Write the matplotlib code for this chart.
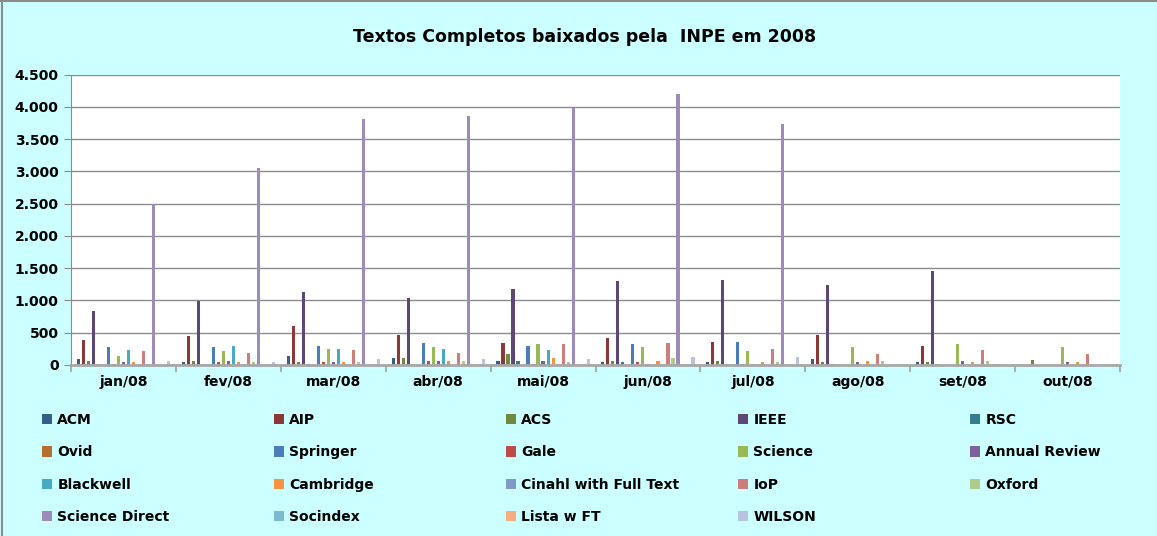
import matplotlib
matplotlib.use("Agg")
import matplotlib.pyplot as plt
from matplotlib.patches import Patch
from matplotlib.lines import Line2D
import matplotlib.ticker as mticker
import numpy as np

months = ["jan/08", "fev/08", "mar/08", "abr/08", "mai/08", "jun/08",
          "jul/08", "ago/08", "set/08", "out/08"]

acm       = [90, 45, 140, 110, 60, 45, 45, 95, 45, 0]
aip       = [390, 450, 600, 465, 340, 420, 355, 465, 295, 0]
acs       = [60, 60, 45, 110, 170, 60, 60, 45, 45, 85]
ieee      = [840, 995, 1135, 1040, 1180, 1305, 1320, 1240, 1455, 0]
rsc       = [15, 15, 15, 15, 60, 45, 15, 15, 15, 0]
ovid      = [0, 0, 0, 0, 0, 0, 0, 0, 0, 0]
springer  = [280, 280, 295, 340, 295, 325, 355, 0, 0, 0]
gale      = [15, 45, 45, 60, 15, 45, 15, 0, 0, 0]
science   = [140, 215, 250, 280, 325, 280, 215, 280, 325, 280]
annual    = [45, 60, 45, 60, 60, 15, 15, 45, 60, 40]
blackwell = [230, 295, 250, 250, 230, 0, 0, 0, 0, 0]
cambridge = [45, 45, 45, 60, 110, 60, 45, 60, 45, 40]
cinahl    = [0, 0, 0, 0, 0, 0, 0, 0, 0, 0]
iop       = [215, 185, 230, 185, 325, 340, 250, 170, 230, 165]
oxford    = [15, 45, 45, 60, 45, 110, 45, 60, 60, 0]
scidirect = [2500, 3060, 3810, 3860, 3980, 4200, 3735, 0, 0, 0]
socindex  = [0, 0, 0, 0, 0, 0, 0, 0, 15, 0]
lista     = [0, 0, 0, 0, 0, 0, 0, 0, 0, 0]
wilson    = [60, 45, 95, 95, 95, 125, 125, 0, 0, 0]

series_names = ["ACM", "AIP", "ACS", "IEEE", "RSC", "Ovid", "Springer", "Gale",
                "Science", "Annual Review", "Blackwell", "Cambridge",
                "Cinahl with Full Text", "IoP", "Oxford", "Science Direct",
                "Socindex", "Lista w FT", "WILSON"]
series_values = [acm, aip, acs, ieee, rsc, ovid, springer, gale, science, annual,
                 blackwell, cambridge, cinahl, iop, oxford, scidirect, socindex,
                 lista, wilson]
colors = ["#385D8A", "#8C3836", "#71893F", "#5C4776", "#357D91", "#B66D31",
          "#4A7EBB", "#BE4B48", "#98B954", "#7D60A0", "#46AAC5", "#F69240",
          "#7E9BC8", "#CD7E7C", "#B0CA87", "#9E8BBA", "#7CBAD0", "#F9AD7E",
          "#B9C3DF"]

W, H = 1157, 536
fig = plt.figure(figsize=(W / 100, H / 100), dpi=100)
fig.patch.set_facecolor("#CCFFFF")
fig.lines.append(Line2D([0, 1], [0.998, 0.998], transform=fig.transFigure,
                        color="#8C8C8C", lw=1.5))
fig.lines.append(Line2D([0.002, 0.002], [0, 1], transform=fig.transFigure,
                        color="#8C8C8C", lw=1.5))

left, right, top, bottom = 71, 1120, 74.7, 365
ax = fig.add_axes([left / W, 1 - bottom / H, (right - left) / W, (bottom - top) / H])
ax.set_facecolor("white")

n = len(series_names)
x = np.arange(len(months))
pitch = 0.0477
bw = pitch * 0.62
handles = []
for i, (name, vals, c) in enumerate(zip(series_names, series_values, colors)):
    ax.bar(x + (i - (n - 1) / 2) * pitch, vals, width=bw, color=c, zorder=3)
    handles.append(Patch(facecolor=c, label=name))

ax.set_xlim(-0.5, len(months) - 0.5)
ax.set_ylim(0, 4500)
ax.yaxis.set_major_locator(mticker.MultipleLocator(500))
ax.yaxis.set_major_formatter(mticker.FuncFormatter(
    lambda v, p: f"{int(v):,}".replace(",", ".")))
ax.grid(axis="y", color="#8C8C8C", lw=1.0, zorder=0)

ax.set_xticks(np.arange(len(months) + 1) - 0.5)
ax.set_xticklabels([])
ax.set_xticks(x, minor=True)
ax.set_xticklabels(months, minor=True, fontsize=10, fontweight="bold")
ax.tick_params(axis="x", which="major", length=5, color="#A0A0A0", width=1.2)
ax.tick_params(axis="x", which="minor", length=0, pad=7)
ax.tick_params(axis="y", length=5, color="#8C8C8C", pad=4, labelsize=10)
for lab in ax.get_yticklabels():
    lab.set_fontweight("bold")

for s in ["top", "right"]:
    ax.spines[s].set_visible(False)
ax.spines["left"].set_color("#8C8C8C")
ax.spines["bottom"].set_color("#A8A8A8")
ax.spines["bottom"].set_linewidth(2)
ax.spines["bottom"].set_zorder(4)

fig.text(585 / W, 1 - 37 / H, "Textos Completos baixados pela  INPE em 2008",
         ha="center", va="center", fontsize=12.5, fontweight="bold")

ncol = 5
col_x = [42, 274, 506, 738, 970]
for c in range(ncol):
    idxs = [r * ncol + c for r in range(4) if r * ncol + c < n]
    fig.legend([handles[i] for i in idxs], [series_names[i] for i in idxs],
               loc="upper left", bbox_to_anchor=(col_x[c] / W, 1 - 413 / H),
               frameon=False, borderpad=0, borderaxespad=0,
               handlelength=0.75, handleheight=0.75, handletextpad=0.35,
               labelspacing=1.32, prop={"size": 10, "weight": "bold"})

fig.savefig("out.png", dpi=100, facecolor=fig.get_facecolor())
